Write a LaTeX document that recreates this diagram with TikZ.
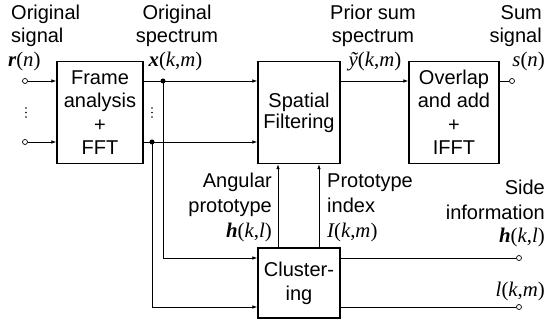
\documentclass[tikz,border=0pt]{standalone}
\usepackage{fontspec}
\setmainfont{Liberation Sans}
\newfontfamily\serifm{Liberation Serif}[Scale=1.04]
\usetikzlibrary{arrows.meta}
\newcommand{\vi}[1]{{\serifm\itshape #1}}
\newcommand{\vb}[1]{{\serifm\bfseries\itshape #1}}
\newcommand{\vr}[1]{{\serifm #1}}
\begin{document}
\begin{tikzpicture}[x=1pt,y=-1pt, font=\fontsize{20}{23.5}\selectfont,
  blk/.style={draw, line width=1.4pt, align=center, inner sep=0pt},
  conn/.style={line width=0.8pt},
  arr/.style={conn, -{Latex[length=5pt,width=3.6pt]}},
  port/.style={circle, draw, fill=white, line width=0.7pt, inner sep=0pt, minimum size=5pt},
  junc/.style={circle, fill, inner sep=0pt, minimum size=5pt},
  dotm/.style={circle, fill, inner sep=0pt, minimum size=1.9pt},
  lbl/.style={inner sep=0pt}]
\useasboundingbox (0,0) rectangle (546,323);

% blocks
\node[blk, minimum width=86pt, minimum height=102pt] (frame) at (100,112.5) {Frame\\analysis\\+\\FFT};
\node[blk, minimum width=82pt, minimum height=102pt, font=\fontsize{20}{21}\selectfont] (spatial) at (299,112.5) {Spatial\\Filtering};
\node[blk, minimum width=90pt, minimum height=102pt] (overlap) at (454,112.5) {Overlap\\and add\\+\\IFFT};
\node[blk, minimum width=82pt, minimum height=70pt, font=\fontsize{20}{24}\selectfont] (cluster) at (299,283) {Cluster-\\ing};

% ports and junctions
\node[port] (p1) at (25,81) {};
\node[port] (p2) at (25,142) {};
\node[junc] (j1) at (163,81) {};
\node[junc] (j2) at (152,142) {};
\node[port] (out) at (512,81) {};
\node[port] (o1) at (519,258) {};
\node[port] (o2) at (519,307) {};
\coordinate (v1) at (278,200);
\coordinate (v2) at (319,200);

% vertical ellipses
\node[dotm] (a1) at (26,108) {};
\node[dotm] (a2) at (26,112.5) {};
\node[dotm] (a3) at (26,117) {};
\node[dotm] (b1) at (152,108) {};
\node[dotm] (b2) at (152,112.5) {};
\node[dotm] (b3) at (152,117) {};

% connectors
\draw[arr] (p1) -- (p1 -| frame.west);
\draw[arr] (p2) -- (p2 -| frame.west);
\draw[arr] (frame.east |- j1) -- (spatial.west |- j1);
\draw[arr] (frame.east |- j2) -- (spatial.west |- j2);
\draw[arr] (j1.center) |- (cluster.west |- o1);
\draw[arr] (j2.center) |- (cluster.west |- o2);
\draw[arr] (cluster.north -| v1) -- (spatial.south -| v1);
\draw[arr] (cluster.north -| v2) -- (spatial.south -| v2);
\draw[arr] (spatial.east |- p1) -- (overlap.west |- p1);
\draw[conn] (overlap.east |- out) -- (out);
\draw[conn] (cluster.east |- o1) -- (o1);
\draw[conn] (cluster.east |- o2) -- (o2);

% labels
\node[lbl, anchor=base west] (t1) at (11,19.5) {Original};
\node[lbl, anchor=base west] (t2) at (11,43) {signal};
\node[lbl, anchor=base west] (t3) at (8,67) {\vb{r}\vr{(}\vi{n}\vr{)}};

\node[lbl, anchor=base] (t4) at (177,19.5) {Original};
\node[lbl, anchor=base] (t5) at (177,43) {spectrum};
\node[lbl, anchor=base] (t6) at (175.5,67) {\vb{x}\vr{(}\vi{k}\vr{,}\vi{m}\vr{)}};

\node[lbl, anchor=base] (t7) at (373,19.5) {Prior sum};
\node[lbl, anchor=base] (t8) at (373,43) {spectrum};
\node[lbl, anchor=base] (t9) at (375,67) {\vi{ỹ}\vr{(}\vi{k}\vr{,}\vi{m}\vr{)}};

\node[lbl, anchor=base east] (t10) at (542,19.5) {Sum};
\node[lbl, anchor=base east] (t11) at (542,43) {signal};
\node[lbl, anchor=base east] (t12) at (545,67) {\vi{s}\vr{(}\vi{n}\vr{)}};

\node[lbl, anchor=base east] (t13) at (272,188) {Angular};
\node[lbl, anchor=base east] (t14) at (272,212) {prototype};
\node[lbl, anchor=base east] (t15) at (272,237) {\vb{h}\vr{(}\vi{k}\vr{,}\vi{l}\vr{)}};

\node[lbl, anchor=base west] (t16) at (327,188) {Prototype};
\node[lbl, anchor=base west] (t17) at (327,212) {index};
\node[lbl, anchor=base west] (t18) at (327,237) {\vi{I}\vr{(}\vi{k}\vr{,}\vi{m}\vr{)}};

\node[lbl, anchor=base east] (t19) at (545,195) {Side};
\node[lbl, anchor=base east] (t20) at (545,219) {information};
\node[lbl, anchor=base east] (t21) at (545,243) {\vb{h}\vr{(}\vi{k}\vr{,}\vi{l}\vr{)}};

\node[lbl, anchor=base east] (t22) at (545,296) {\vi{l}\vr{(}\vi{k}\vr{,}\vi{m}\vr{)}};
\end{tikzpicture}
\end{document}
